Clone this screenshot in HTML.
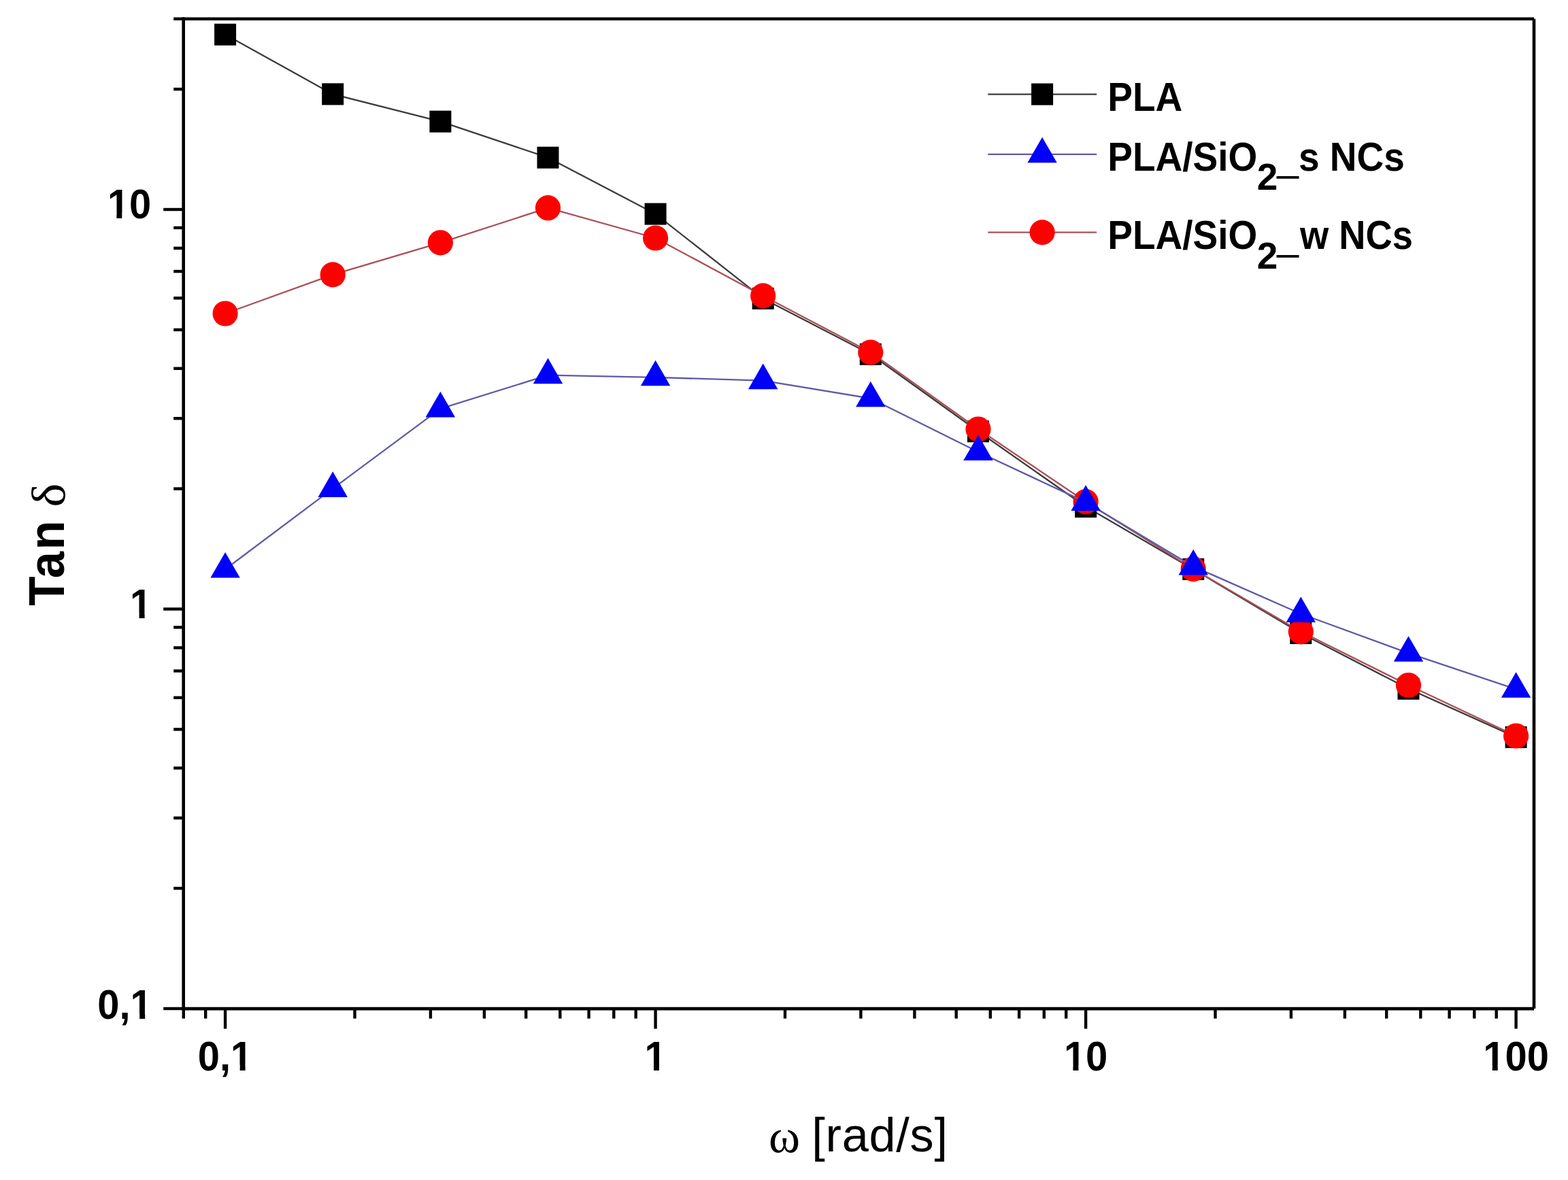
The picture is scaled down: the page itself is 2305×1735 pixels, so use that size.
<!DOCTYPE html>
<html><head><meta charset="utf-8"><title>Tan delta vs angular frequency</title>
<style>html,body{margin:0;padding:0;background:#fff;}svg{display:block;}.b{font-family:"Liberation Sans",Arial,sans-serif;font-weight:bold;}.r{font-family:"Liberation Sans",Arial,sans-serif;font-weight:normal;}.g{font-family:"Liberation Serif","Times New Roman",serif;font-weight:normal;}</style>
</head><body>
<svg width="2305" height="1735" viewBox="0 0 2305 1735">
<rect x="0" y="0" width="2305" height="1735" fill="#fff"/>
<g>
<polyline points="331.1,50.8 489.2,138.4 647.4,178.7 805.5,231.7 963.6,314.6 1121.7,438.9 1279.8,520.8 1438.0,634.3 1596.1,745.0 1754.2,836.9 1912.3,931.0 2070.5,1012.7 2228.6,1083.9" fill="none" stroke="#3c3c3c" stroke-width="2.3" stroke-linejoin="round"/>
<rect x="315.1" y="34.8" width="32.0" height="32.0" fill="#000"/>
<rect x="473.2" y="122.4" width="32.0" height="32.0" fill="#000"/>
<rect x="631.4" y="162.7" width="32.0" height="32.0" fill="#000"/>
<rect x="789.5" y="215.7" width="32.0" height="32.0" fill="#000"/>
<rect x="947.6" y="298.6" width="32.0" height="32.0" fill="#000"/>
<rect x="1105.7" y="422.9" width="32.0" height="32.0" fill="#000"/>
<rect x="1263.8" y="504.8" width="32.0" height="32.0" fill="#000"/>
<rect x="1422.0" y="618.3" width="32.0" height="32.0" fill="#000"/>
<rect x="1580.1" y="729.0" width="32.0" height="32.0" fill="#000"/>
<rect x="1738.2" y="820.9" width="32.0" height="32.0" fill="#000"/>
<rect x="1896.3" y="915.0" width="32.0" height="32.0" fill="#000"/>
<rect x="2054.5" y="996.7" width="32.0" height="32.0" fill="#000"/>
<rect x="2212.6" y="1067.9" width="32.0" height="32.0" fill="#000"/>
<polyline points="331.1,461.0 489.2,403.9 647.4,356.8 805.5,305.7 963.6,350.0 1121.7,434.9 1279.8,518.0 1438.0,631.0 1596.1,737.7 1754.2,836.6 1912.3,928.8 2070.5,1007.5 2228.6,1082.0" fill="none" stroke="#aa5058" stroke-width="2.3" stroke-linejoin="round"/>
<circle cx="331.1" cy="461.0" r="18.6" fill="#ff0000"/>
<circle cx="489.2" cy="403.9" r="18.6" fill="#ff0000"/>
<circle cx="647.4" cy="356.8" r="18.6" fill="#ff0000"/>
<circle cx="805.5" cy="305.7" r="18.6" fill="#ff0000"/>
<circle cx="963.6" cy="350.0" r="18.6" fill="#ff0000"/>
<circle cx="1121.7" cy="434.9" r="18.6" fill="#ff0000"/>
<circle cx="1279.8" cy="518.0" r="18.6" fill="#ff0000"/>
<circle cx="1438.0" cy="631.0" r="18.6" fill="#ff0000"/>
<circle cx="1596.1" cy="737.7" r="18.6" fill="#ff0000"/>
<circle cx="1754.2" cy="836.6" r="18.6" fill="#ff0000"/>
<circle cx="1912.3" cy="928.8" r="18.6" fill="#ff0000"/>
<circle cx="2070.5" cy="1007.5" r="18.6" fill="#ff0000"/>
<circle cx="2228.6" cy="1082.0" r="18.6" fill="#ff0000"/>
<polyline points="331.1,837.0 489.2,718.4 647.4,600.9 805.5,551.7 963.6,554.8 1121.7,559.7 1279.8,585.8 1438.0,664.5 1596.1,738.4 1754.2,832.9 1912.3,902.5 2070.5,960.3 2228.6,1013.3" fill="none" stroke="#5e5aa8" stroke-width="2.3" stroke-linejoin="round"/>
<polygon points="331.1,811.9 309.4,849.5 352.8,849.5" fill="#0000fb"/>
<polygon points="489.2,693.3 467.5,730.9 510.9,730.9" fill="#0000fb"/>
<polygon points="647.4,575.8 625.6,613.4 669.1,613.4" fill="#0000fb"/>
<polygon points="805.5,526.6 783.8,564.2 827.2,564.2" fill="#0000fb"/>
<polygon points="963.6,529.7 941.9,567.3 985.3,567.3" fill="#0000fb"/>
<polygon points="1121.7,534.6 1100.0,572.2 1143.4,572.2" fill="#0000fb"/>
<polygon points="1279.8,560.7 1258.1,598.3 1301.5,598.3" fill="#0000fb"/>
<polygon points="1438.0,639.4 1416.3,677.0 1459.7,677.0" fill="#0000fb"/>
<polygon points="1596.1,713.3 1574.4,750.9 1617.8,750.9" fill="#0000fb"/>
<polygon points="1754.2,807.8 1732.5,845.4 1775.9,845.4" fill="#0000fb"/>
<polygon points="1912.3,877.4 1890.6,915.0 1934.0,915.0" fill="#0000fb"/>
<polygon points="2070.5,935.2 2048.8,972.8 2092.2,972.8" fill="#0000fb"/>
<polygon points="2228.6,988.2 2206.9,1025.8 2250.3,1025.8" fill="#0000fb"/>
<g stroke="#000" stroke-width="4.6" fill="none" stroke-linecap="butt">
<line x1="267.4" y1="27.7" x2="2255.0" y2="27.7"/>
<line x1="267.4" y1="1483.1" x2="2255.0" y2="1483.1"/>
<line x1="269.7" y1="25.4" x2="269.7" y2="1485.4"/>
<line x1="2255.0" y1="27.7" x2="2255.0" y2="1483.1"/>
</g>
<g stroke="#000" stroke-width="4.4" fill="none">
<line x1="269.8" y1="1483.1" x2="269.8" y2="1497.6"/>
<line x1="302.2" y1="1483.1" x2="302.2" y2="1497.6"/>
<line x1="331.1" y1="1483.1" x2="331.1" y2="1512.6"/>
<line x1="521.5" y1="1483.1" x2="521.5" y2="1497.6"/>
<line x1="632.9" y1="1483.1" x2="632.9" y2="1497.6"/>
<line x1="711.9" y1="1483.1" x2="711.9" y2="1497.6"/>
<line x1="773.2" y1="1483.1" x2="773.2" y2="1497.6"/>
<line x1="823.3" y1="1483.1" x2="823.3" y2="1497.6"/>
<line x1="865.6" y1="1483.1" x2="865.6" y2="1497.6"/>
<line x1="902.3" y1="1483.1" x2="902.3" y2="1497.6"/>
<line x1="934.7" y1="1483.1" x2="934.7" y2="1497.6"/>
<line x1="963.6" y1="1483.1" x2="963.6" y2="1512.6"/>
<line x1="1154.0" y1="1483.1" x2="1154.0" y2="1497.6"/>
<line x1="1265.4" y1="1483.1" x2="1265.4" y2="1497.6"/>
<line x1="1344.4" y1="1483.1" x2="1344.4" y2="1497.6"/>
<line x1="1405.7" y1="1483.1" x2="1405.7" y2="1497.6"/>
<line x1="1455.8" y1="1483.1" x2="1455.8" y2="1497.6"/>
<line x1="1498.1" y1="1483.1" x2="1498.1" y2="1497.6"/>
<line x1="1534.8" y1="1483.1" x2="1534.8" y2="1497.6"/>
<line x1="1567.2" y1="1483.1" x2="1567.2" y2="1497.6"/>
<line x1="1596.1" y1="1483.1" x2="1596.1" y2="1512.6"/>
<line x1="1786.5" y1="1483.1" x2="1786.5" y2="1497.6"/>
<line x1="1897.9" y1="1483.1" x2="1897.9" y2="1497.6"/>
<line x1="1976.9" y1="1483.1" x2="1976.9" y2="1497.6"/>
<line x1="2038.2" y1="1483.1" x2="2038.2" y2="1497.6"/>
<line x1="2088.3" y1="1483.1" x2="2088.3" y2="1497.6"/>
<line x1="2130.6" y1="1483.1" x2="2130.6" y2="1497.6"/>
<line x1="2167.3" y1="1483.1" x2="2167.3" y2="1497.6"/>
<line x1="2199.7" y1="1483.1" x2="2199.7" y2="1497.6"/>
<line x1="2228.6" y1="1483.1" x2="2228.6" y2="1512.6"/>
<line x1="269.7" y1="1483.0" x2="240.2" y2="1483.0"/>
<line x1="269.7" y1="1306.1" x2="255.2" y2="1306.1"/>
<line x1="269.7" y1="1202.7" x2="255.2" y2="1202.7"/>
<line x1="269.7" y1="1129.3" x2="255.2" y2="1129.3"/>
<line x1="269.7" y1="1072.4" x2="255.2" y2="1072.4"/>
<line x1="269.7" y1="1025.8" x2="255.2" y2="1025.8"/>
<line x1="269.7" y1="986.5" x2="255.2" y2="986.5"/>
<line x1="269.7" y1="952.4" x2="255.2" y2="952.4"/>
<line x1="269.7" y1="922.4" x2="255.2" y2="922.4"/>
<line x1="269.7" y1="895.5" x2="240.2" y2="895.5"/>
<line x1="269.7" y1="718.6" x2="255.2" y2="718.6"/>
<line x1="269.7" y1="615.2" x2="255.2" y2="615.2"/>
<line x1="269.7" y1="541.8" x2="255.2" y2="541.8"/>
<line x1="269.7" y1="484.9" x2="255.2" y2="484.9"/>
<line x1="269.7" y1="438.3" x2="255.2" y2="438.3"/>
<line x1="269.7" y1="399.0" x2="255.2" y2="399.0"/>
<line x1="269.7" y1="364.9" x2="255.2" y2="364.9"/>
<line x1="269.7" y1="334.9" x2="255.2" y2="334.9"/>
<line x1="269.7" y1="308.0" x2="240.2" y2="308.0"/>
<line x1="269.7" y1="131.1" x2="255.2" y2="131.1"/>
<line x1="269.7" y1="27.7" x2="255.2" y2="27.7"/>
</g>
<text class="b" font-size="61" transform="translate(157.9,321.0) scale(0.95,1)">10</text>
<text class="b" font-size="61" transform="translate(191.1,909.4) scale(0.95,1)">1</text>
<text class="b" font-size="61" transform="translate(143.3,1497.8) scale(0.95,1)">0,1</text>
<text class="b" font-size="61" transform="translate(290.8,1574.0) scale(0.95,1)">0,1</text>
<text class="b" font-size="61" transform="translate(947.5,1574.0) scale(0.95,1)">1</text>
<text class="b" font-size="61" transform="translate(1563.9,1574.0) scale(0.95,1)">10</text>
<text class="b" font-size="61" transform="translate(2180.3,1574.0) scale(0.95,1)">100</text>
<rect x="160.5" y="313.4" width="10.9" height="9.2" fill="#fff"/>
<rect x="179.3" y="313.4" width="10.1" height="9.2" fill="#fff"/>
<rect x="193.7" y="901.8" width="10.9" height="9.2" fill="#fff"/>
<rect x="212.6" y="901.8" width="10.1" height="9.2" fill="#fff"/>
<rect x="194.3" y="1490.2" width="10.9" height="9.2" fill="#fff"/>
<rect x="213.2" y="1490.2" width="10.1" height="9.2" fill="#fff"/>
<rect x="341.8" y="1566.4" width="10.9" height="9.2" fill="#fff"/>
<rect x="360.6" y="1566.4" width="10.1" height="9.2" fill="#fff"/>
<rect x="950.1" y="1566.4" width="10.9" height="9.2" fill="#fff"/>
<rect x="969.0" y="1566.4" width="10.1" height="9.2" fill="#fff"/>
<rect x="1566.5" y="1566.4" width="10.9" height="9.2" fill="#fff"/>
<rect x="1585.4" y="1566.4" width="10.1" height="9.2" fill="#fff"/>
<rect x="2182.9" y="1566.4" width="10.9" height="9.2" fill="#fff"/>
<rect x="2201.7" y="1566.4" width="10.1" height="9.2" fill="#fff"/>
<text class="g" font-size="70" transform="translate(1130.0,1694.2)">ω</text>
<text class="r" font-size="70.3" letter-spacing="0.75" transform="translate(1193.2,1692.9)">[rad/s]</text>
<g transform="translate(93.9,889.9) rotate(-90)"><text class="b" font-size="74.5" letter-spacing="2.5" transform="translate(-0.8,0) scale(0.95,1)">Tan</text><text class="g" font-size="69" transform="translate(144.3,1.0) scale(1.07,1)">δ</text></g>
<line x1="1452.3" y1="138.6" x2="1612.2" y2="138.6" stroke="#3c3c3c" stroke-width="2.3"/>
<rect x="1516.1" y="122.6" width="32.0" height="32.0" fill="#000"/>
<line x1="1452.3" y1="226.8" x2="1612.2" y2="226.8" stroke="#5e5aa8" stroke-width="2.3"/>
<polygon points="1532.1,201.7 1510.4,239.3 1553.8,239.3" fill="#0000fb"/>
<line x1="1452.3" y1="341.6" x2="1612.2" y2="341.6" stroke="#aa5058" stroke-width="2.3"/>
<circle cx="1532.1" cy="341.6" r="18.6" fill="#ff0000"/>
<text class="b" font-size="59.5" text-anchor="start" transform="translate(1628.2,162.9) scale(0.925,1)">PLA</text>
<text class="b" font-size="59.5" text-anchor="start" transform="translate(1628.2,250.8) scale(0.925,1)">PLA/SiO</text>
<text class="b" font-size="56" text-anchor="start" transform="translate(1847.7,279.0) scale(0.98,1)">2</text>
<text class="b" font-size="59.5" stroke="#000" stroke-width="1.6" transform="translate(1877.8,255.0) scale(0.925,1)">_</text>
<text class="b" font-size="59.5" text-anchor="start" transform="translate(1908.9,250.8) scale(0.925,1)">s NCs</text>
<text class="b" font-size="59.5" text-anchor="start" transform="translate(1628.2,366.4) scale(0.925,1)">PLA/SiO</text>
<text class="b" font-size="56" text-anchor="start" transform="translate(1847.7,394.6) scale(0.98,1)">2</text>
<text class="b" font-size="59.5" stroke="#000" stroke-width="1.6" transform="translate(1877.8,370.6) scale(0.925,1)">_</text>
<text class="b" font-size="59.5" text-anchor="start" transform="translate(1911.0,366.4) scale(0.912975,1)">w NCs</text>
</g>
</svg>
</body></html>
